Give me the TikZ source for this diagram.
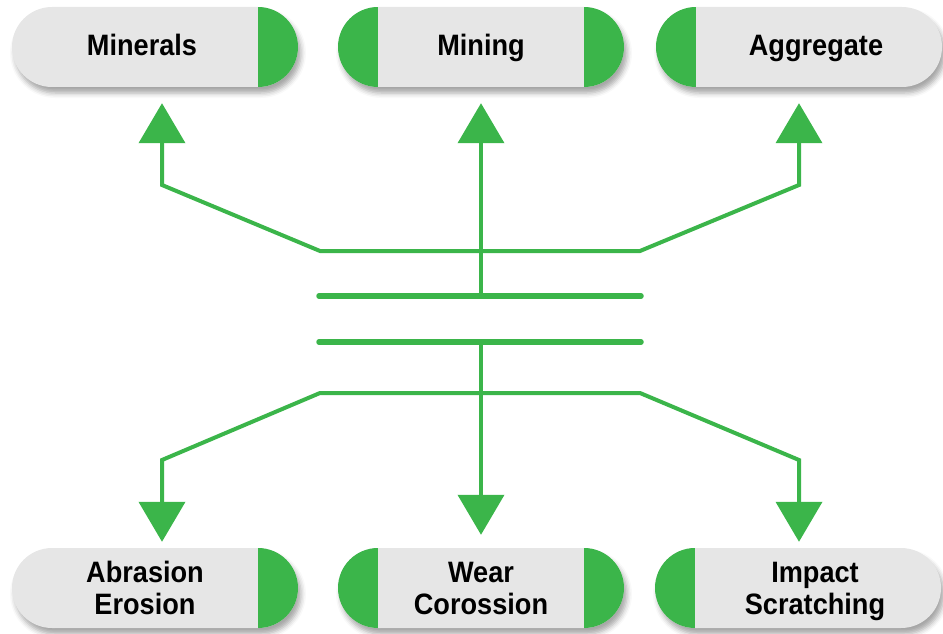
\documentclass[tikz,border=0pt]{standalone}
\usepackage{fontspec}
\setmainfont{Liberation Sans}
\newfontfamily\pillfont{Liberation Sans}[FakeStretch = 0.92]
\usetikzlibrary{arrows.meta, shapes.misc, shadows.blur}
\definecolor{leafgreen}{HTML}{3BB54A}
\definecolor{pillgray}{HTML}{E6E6E6}
\tikzset{pill/.style = {rounded rectangle,
    minimum width = 286pt, minimum height = 80pt, inner sep = 0pt,
    fill = pillgray,
    blur shadow = {shadow xshift = 3pt, shadow yshift = -6pt,
        shadow blur radius = 5pt, shadow opacity = 35}
    }
}
\tikzset{capright/.style = {pill, path picture = {
    \fill[leafgreen] ([xshift = -40pt]path picture bounding box.north east)
        rectangle (path picture bounding box.south east);}}}
\tikzset{capleft/.style = {pill, path picture = {
    \fill[leafgreen] (path picture bounding box.north west)
        rectangle ([xshift = 40pt]path picture bounding box.south west);}}}
\tikzset{capboth/.style = {pill, path picture = {
    \fill[leafgreen] (path picture bounding box.north west)
        rectangle ([xshift = 40pt]path picture bounding box.south west);
    \fill[leafgreen] ([xshift = -40pt]path picture bounding box.north east)
        rectangle (path picture bounding box.south east);}}}
\tikzset{pilltext/.style = {font = \pillfont\bfseries\fontsize{29.5}{32.5}\selectfont,
    align = center, text = black, inner sep = 0pt, text depth = 0pt}}
\tikzset{oneline/.style = {pilltext, text height = 21pt, yshift = 2pt}}
\tikzset{twoline/.style = {pilltext, text height = 53.5pt}}

\begin{document}
\begin{tikzpicture}[x = 1pt, y = -1pt]

    \tikzset{flow/.style = {draw = leafgreen, line width = 4pt, line join = miter}}
    \tikzset{tip/.style = {{Triangle[width = 46pt, length = 40pt]}-{Triangle[width = 46pt, length = 40pt]}}}
    \tikzset{tipend/.style = {-{Triangle[width = 46pt, length = 40pt]}}}
    \tikzset{bar/.style = {draw = leafgreen, line width = 5.5pt, line cap = round}}

    \useasboundingbox (0,0) rectangle (943,634);

    % top row
    \node (minerals) [capright, label = {[oneline, xshift = -13pt]center:Minerals}] at (155,47) {};
    \node (mining) [capboth, label = {[oneline]center:Mining}] at (481,47) {};
    \node (aggregate) [capleft, label = {[oneline, xshift = 17pt]center:Aggregate}] at (799,47) {};

    % bottom row
    \node (abrasion) [capright, label = {[twoline, xshift = -10pt]center:{Abrasion\\Erosion}}] at (155,588) {};
    \node (wear) [capboth, label = {[twoline]center:{Wear\\Corossion}}] at (481,588) {};
    \node (impact) [capleft, label = {[twoline, xshift = 17pt]center:{Impact\\Scratching}}] at (798,588) {};

    \coordinate (hubNW) at (320,251);
    \coordinate (hubNE) at (640,251);
    \coordinate (hubSW) at (320,393);
    \coordinate (hubSE) at (640,393);
    \coordinate (kneeNW) at (162,185);
    \coordinate (kneeNE) at (799,185);
    \coordinate (kneeSW) at (162,460);
    \coordinate (kneeSE) at (799,460);
    \coordinate (barNW) at (319,296);
    \coordinate (barNE) at (641,296);
    \coordinate (barSW) at (319,342);
    \coordinate (barSE) at (641,342);

    \draw[bar] (barNW) -- (barNE);
    \draw[bar] (barSW) -- (barSE);

    \draw[flow, tip, shorten <= 16pt, shorten >= 16pt]
    (kneeNW |- minerals.south) -- (kneeNW) -- (hubNW) -- (hubNE)
    -- (kneeNE) -- (kneeNE |- aggregate.south);
    \draw[flow, tipend, shorten >= 16pt] (barNW -| mining.south) -- (mining.south);

    \draw[flow, tip, shorten <= 6pt, shorten >= 6pt]
    (kneeSW |- abrasion.north) -- (kneeSW) -- (hubSW) -- (hubSE)
    -- (kneeSE) -- (kneeSE |- impact.north);
    \draw[flow, tipend, shorten >= 13pt] (barSW -| wear.north) -- (wear.north);

\end{tikzpicture}
\end{document}
